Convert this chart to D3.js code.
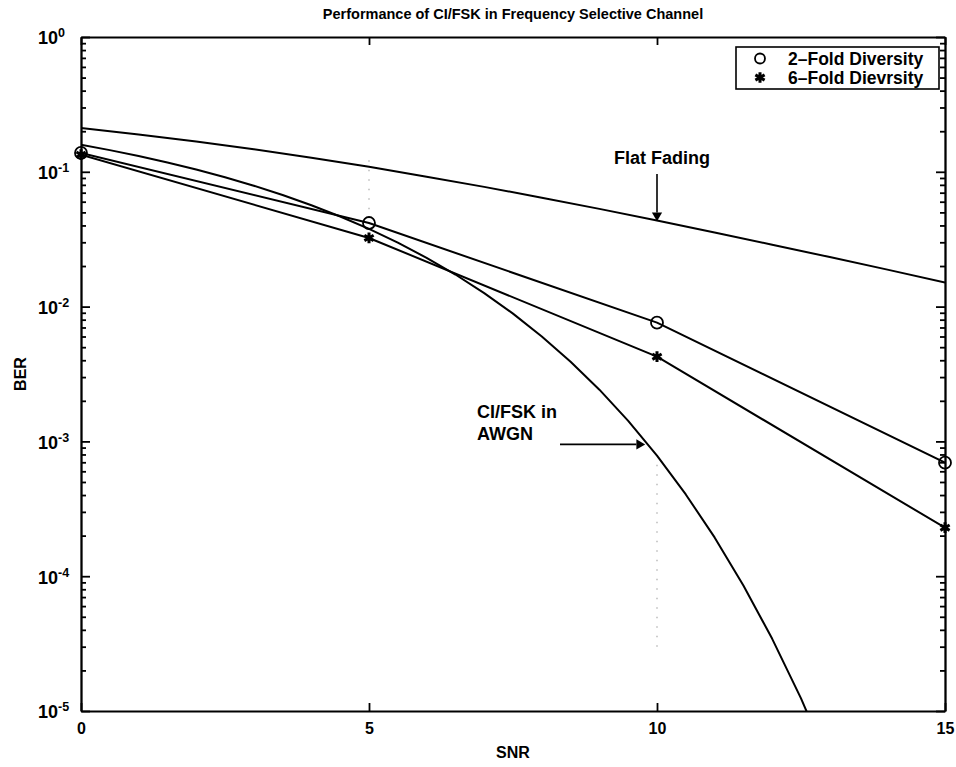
<!DOCTYPE html>
<html>
<head>
<meta charset="utf-8">
<script src="https://cdn.jsdelivr.net/npm/d3@7"></script>
<style>
  html, body { margin: 0; padding: 0; background: #fff; }
  svg { display: block; font-family: "Liberation Sans", Arial, sans-serif; }
  .axis path, .axis line { stroke: #000; stroke-width: 1.8; }
</style>
</head>
<body>
<svg id="chart" width="956" height="767"></svg>
<script>
// SNR axis ticks and BER decades
const snrTicks = [0, 5, 10, 15];
const berDecades = [1, 1e-1, 1e-2, 1e-3, 1e-4, 1e-5];

// Diversity curves, sampled at the marker positions
const diversitySnr = [0, 5, 10, 15];
const twoFoldBer = [0.138, 0.0417, 0.0076, 0.000695];
const sixFoldBer = [0.134, 0.0323, 0.00425, 0.000229];

// Flat fading reference curve
const flatSnr = [0, 1, 2, 3, 4, 5, 6, 7, 8, 9, 10, 11, 12, 13, 14, 15];
const flatBer = [0.211, 0.189, 0.168, 0.147, 0.127, 0.109, 0.092, 0.0773, 0.0643,
                 0.0531, 0.0436, 0.0355, 0.0288, 0.0233, 0.0188, 0.0151];

// CI/FSK over AWGN
const awgnSnr = [0, 0.5, 1, 1.5, 2, 2.5, 3, 3.5, 4, 4.5, 5, 5.5, 6, 6.5, 7, 7.5,
                 8, 8.5, 9, 9.5, 10, 10.5, 11, 11.5, 12, 12.5, 13];
const awgnBer = [0.1587, 0.1448, 0.1309, 0.1172, 0.104, 0.0911, 0.0789, 0.0673,
                 0.0565, 0.0466, 0.0377, 0.0298, 0.023, 0.0173, 0.0126, 0.00887,
                 0.006, 0.0039, 0.00242, 0.00142, 0.000783, 0.000404, 0.000194,
                 0.0000853, 0.0000343, 0.0000124, 0.00000397];

// Faint dotted guides
const guideSnr = [5, 10];
const guideTop = [0.122, 0.00067];
const guideBottom = [0.0478, 0.000028];

// Legend entries
const legendLabels = ["2\u2013Fold Diversity", "6\u2013Fold Dievrsity"];

const svg = d3.select("#chart");
const m = { left: 81, right: 945, top: 37, bottom: 711 };

const x = d3.scaleLinear().domain([0, 15]).range([m.left, m.right]);
const y = d3.scaleLog().domain([1e-5, 1]).range([m.bottom, m.top]);

// minor log ticks (2..9 per decade)
const minorTicks = [];
for (let e = -5; e < 0; e++) {
  for (let k = 2; k <= 9; k++) minorTicks.push(k * Math.pow(10, e));
}

svg.append("defs").append("clipPath").attr("id", "plotClip")
  .append("rect").attr("x", m.left).attr("y", m.top)
  .attr("width", m.right - m.left).attr("height", m.bottom - m.top);

// Title
svg.append("text")
  .attr("x", (m.left + m.right) / 2).attr("y", 19)
  .attr("text-anchor", "middle")
  .style("font-size", "14.5px").style("font-weight", "bold")
  .text("Performance of CI/FSK in Frequency Selective Channel");

// Axes: ticks point inward on all four sides
const gBottom = svg.append("g").attr("class", "axis")
  .attr("transform", `translate(0,${m.bottom})`)
  .call(d3.axisBottom(x).tickValues(snrTicks).tickSize(-8).tickPadding(9).tickSizeOuter(0));
gBottom.selectAll("text").attr("dy", "0.85em")
  .style("font-size", "16px").style("font-weight", "bold");

svg.append("g").attr("class", "axis")
  .attr("transform", `translate(0,${m.top})`)
  .call(d3.axisTop(x).tickValues(snrTicks).tickSize(-8).tickFormat("").tickSizeOuter(0));

// decade labels: base "10" left-aligned in a column, exponent raised after it
const gLeft = svg.append("g").attr("class", "axis")
  .attr("transform", `translate(${m.left},0)`)
  .call(d3.axisLeft(y).tickValues(berDecades).tickSize(-9).tickSizeOuter(0)
    .tickFormat(d => String(Math.round(Math.log10(d)))));
gLeft.selectAll(".tick text").each(function () {
  const t = d3.select(this);
  const exp = t.text();
  t.text(null)
    .attr("x", -43).attr("text-anchor", "start").attr("dy", "0.38em")
    .style("font-size", "18px").style("font-weight", "bold");
  t.append("tspan").text("10");
  t.append("tspan").attr("dy", "-0.55em").style("font-size", "12.5px").text(exp);
});

svg.append("g").attr("class", "axis")
  .attr("transform", `translate(${m.left},0)`)
  .call(d3.axisLeft(y).tickValues(minorTicks).tickSize(-5).tickFormat("").tickSizeOuter(0));

svg.append("g").attr("class", "axis")
  .attr("transform", `translate(${m.right},0)`)
  .call(d3.axisRight(y).tickValues(berDecades).tickSize(-9).tickFormat("").tickSizeOuter(0));
svg.append("g").attr("class", "axis")
  .attr("transform", `translate(${m.right},0)`)
  .call(d3.axisRight(y).tickValues(minorTicks).tickSize(-5).tickFormat("").tickSizeOuter(0));

// Axis labels
svg.append("text")
  .attr("x", (m.left + m.right) / 2).attr("y", 758)
  .attr("text-anchor", "middle")
  .style("font-size", "16px").style("font-weight", "bold")
  .text("SNR");
svg.append("text")
  .attr("transform", `translate(26,${(m.top + m.bottom) / 2}) rotate(-90)`)
  .attr("text-anchor", "middle")
  .style("font-size", "16px").style("font-weight", "bold")
  .text("BER");

const plot = svg.append("g").attr("clip-path", "url(#plotClip)");

// dotted guides
plot.selectAll("line.guide").data(guideSnr).join("line")
  .attr("class", "guide")
  .attr("x1", d => x(d)).attr("x2", d => x(d))
  .attr("y1", (d, i) => y(guideTop[i])).attr("y2", (d, i) => y(guideBottom[i]))
  .attr("stroke", "#aaa").attr("stroke-width", 1.2).attr("stroke-dasharray", "1.5,8");

const line = d3.line().x(d => x(d[0])).y(d => y(d[1]));
const series = [
  d3.zip(flatSnr, flatBer),
  d3.zip(awgnSnr, awgnBer),
  d3.zip(diversitySnr, twoFoldBer),
  d3.zip(diversitySnr, sixFoldBer)
];
plot.selectAll("path.curve").data(series).join("path")
  .attr("class", "curve")
  .attr("d", line)
  .attr("fill", "none").attr("stroke", "#000").attr("stroke-width", 2)
  .attr("stroke-linejoin", "round");

// markers
const star = d3.symbol().type(d3.symbolAsterisk).size(80);
svg.selectAll("circle.two").data(d3.zip(diversitySnr, twoFoldBer)).join("circle")
  .attr("class", "two")
  .attr("cx", d => x(d[0])).attr("cy", d => y(d[1])).attr("r", 6)
  .attr("fill", "none").attr("stroke", "#000").attr("stroke-width", 1.8);
svg.selectAll("path.six").data(d3.zip(diversitySnr, sixFoldBer)).join("path")
  .attr("class", "six")
  .attr("transform", d => `translate(${x(d[0])},${y(d[1])})`)
  .attr("d", star)
  .attr("fill", "none").attr("stroke", "#000").attr("stroke-width", 3);

// Annotations
const ffSnr = 10, ffBer = flatBer[flatSnr.indexOf(10)];
svg.append("text")
  .attr("x", x(ffSnr) + 5).attr("y", 164)
  .attr("text-anchor", "middle")
  .style("font-size", "18px").style("font-weight", "bold")
  .text("Flat Fading");
svg.append("line")
  .attr("x1", x(ffSnr)).attr("x2", x(ffSnr))
  .attr("y1", 174).attr("y2", y(ffBer) - 8)
  .attr("stroke", "#000").attr("stroke-width", 1.6);
svg.append("path")
  .attr("d", d3.symbol().type(d3.symbolTriangle).size(45))
  .attr("transform", `translate(${x(ffSnr)},${y(ffBer) - 5}) rotate(180)`)
  .attr("fill", "#000");

const awArrowBer = 0.00095;
const awAt = 9.78;
const awLabel = svg.append("text")
  .style("font-size", "18px").style("font-weight", "bold");
awLabel.append("tspan").attr("x", 477).attr("y", 418).text("CI/FSK in");
awLabel.append("tspan").attr("x", 477).attr("y", 440).text("AWGN");
svg.append("line")
  .attr("x1", 560).attr("x2", x(awAt) - 8)
  .attr("y1", y(awArrowBer)).attr("y2", y(awArrowBer))
  .attr("stroke", "#000").attr("stroke-width", 1.6);
svg.append("path")
  .attr("d", d3.symbol().type(d3.symbolTriangle).size(45))
  .attr("transform", `translate(${x(awAt) - 5},${y(awArrowBer)}) rotate(90)`)
  .attr("fill", "#000");

// Legend
const lg = svg.append("g").attr("transform", "translate(736,47)");
lg.append("rect").attr("width", 203).attr("height", 42)
  .attr("fill", "#fff").attr("stroke", "#000").attr("stroke-width", 1.6);
lg.append("circle").attr("cx", 24).attr("cy", 11.5).attr("r", 5)
  .attr("fill", "none").attr("stroke", "#000").attr("stroke-width", 1.8);
lg.append("path").attr("d", star).attr("transform", "translate(24,30.5)")
  .attr("fill", "none").attr("stroke", "#000").attr("stroke-width", 3);
lg.selectAll("text").data(legendLabels).join("text")
  .attr("x", 52).attr("y", (d, i) => 17.5 + i * 19)
  .style("font-size", "17.5px").style("font-weight", "bold")
  .text(d => d);
</script>
</body>
</html>
